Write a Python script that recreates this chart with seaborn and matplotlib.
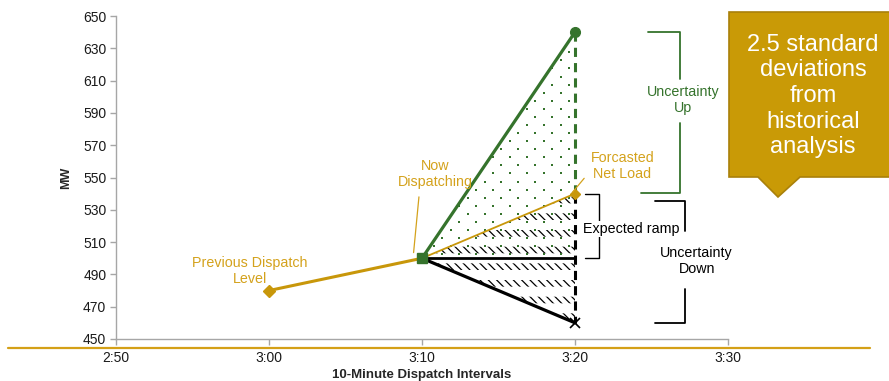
import matplotlib
matplotlib.use("Agg")
import matplotlib.pyplot as plt
from matplotlib.patches import Polygon
from matplotlib.lines import Line2D
import numpy as np
import pandas as pd
import seaborn as sns

# ---- data -------------------------------------------------------------
tick_minutes = [0, 10, 20, 30, 40]
tick_labels = ["2:50", "3:00", "3:10", "3:20", "3:30"]

prev_minutes = [10, 20]          # 3:00 -> 3:10
prev_mw = [480, 500]

step_minutes = [20, 30]          # 3:10 -> 3:20
forecast_mw = [500, 540]
up_mw = [500, 640]
down_mw = [500, 460]
hold_mw = [500, 500]

y_ticks = [450, 470, 490, 510, 530, 550, 570, 590, 610, 630, 650]

GREEN = "#35732C"
GOLD = "#C8970A"
GOLD_TXT = "#D4A21C"
BLACK = "#000000"

sns.set_style("white")
plt.rcParams["font.family"] = ["Liberation Sans", "DejaVu Sans"]

fig = plt.figure(figsize=(8.89, 3.81), dpi=100)
ax = fig.add_axes([116 / 889, 1 - 339 / 381, (728 - 116) / 889, (339 - 16) / 381])

# ---- shaded bands ----------------------------------------------------
xs = np.array(step_minutes, dtype=float)

# black diagonal strokes between the down bound and the forecast
plt.rcParams["hatch.linewidth"] = 0.9
ax.fill_between(xs, down_mw, forecast_mw, facecolor="none", edgecolor=BLACK,
                hatch="\\\\\\\\", linewidth=0, zorder=1)
# white horizontal bands break the strokes into rows
plt.rcParams["hatch.linewidth"] = 7.2
ax.fill_between(xs, down_mw, forecast_mw, facecolor="none", edgecolor="white",
                hatch="-", linewidth=0, zorder=1.5)

# green dot texture over the upward band, clipped to its outline
up_band = ax.fill_between(xs, hold_mw, up_mw, facecolor="none",
                          edgecolor="none", linewidth=0, zorder=1)
gx, gy = [], []
for i, yv in enumerate(np.arange(502.5, 640, 5.0)):
    shift = 0.0 if i % 2 == 0 else 0.555
    for xv in np.arange(20.2 + shift, 29.9, 1.11):
        gx.append(xv)
        gy.append(yv)
dots = ax.scatter(gx, gy, s=3.5, marker="s", color=GREEN, linewidths=0,
                  zorder=2)
dots.set_clip_path(up_band.get_paths()[0], ax.transData)

# ---- lines -----------------------------------------------------------
def seg(minutes, values, color, lw, **kw):
    df = pd.DataFrame({"minute": minutes, "MW": values})
    sns.lineplot(data=df, x="minute", y="MW", color=color, linewidth=lw,
                 ax=ax, legend=False, **kw)

seg(prev_minutes, prev_mw, GOLD, 2.2, zorder=4)
seg(step_minutes, up_mw, GREEN, 2.3, zorder=4)
seg(step_minutes, down_mw, BLACK, 2.3, zorder=4)
seg(step_minutes, hold_mw, BLACK, 2.0, zorder=4)
seg(step_minutes, forecast_mw, GOLD, 1.3, zorder=5)

# dashed range at 3:20
ax.plot([step_minutes[1]] * 2, [up_mw[1], forecast_mw[1]], color=GREEN,
        lw=2.2, ls=(0, (3, 2)), zorder=3)
ax.plot([step_minutes[1]] * 2, [forecast_mw[1], down_mw[1]], color=BLACK,
        lw=2.2, ls=(0, (3, 2)), zorder=3)

# markers
ax.plot(prev_minutes[0], prev_mw[0], marker="D", ms=6, color=GOLD, zorder=6)
ax.plot(step_minutes[0], up_mw[0], marker="s", ms=7, color=GREEN, zorder=6)
ax.plot(step_minutes[1], up_mw[1], marker="o", ms=7, color=GREEN, zorder=6)
ax.plot(step_minutes[1], forecast_mw[1], marker="D", ms=5, color=GOLD, zorder=6)
ax.plot(step_minutes[1], down_mw[1], marker="x", ms=7, mew=1.2, color=BLACK, zorder=6)

# ---- axes ------------------------------------------------------------
ax.set_xlim(0, 40)
ax.set_ylim(450, 650)
ax.set_xticks(tick_minutes)
ax.set_xticklabels(tick_labels)
ax.set_yticks(y_ticks)
for s in ("top", "right"):
    ax.spines[s].set_visible(False)
for s in ("left", "bottom"):
    ax.spines[s].set_color("#A6A6A6")
    ax.spines[s].set_linewidth(1.0)
ax.tick_params(axis="both", which="major", direction="out", length=4,
               width=1.0, color="#A6A6A6", labelsize=10, labelcolor="#1A1A1A",
               left=True, bottom=True)
ax.tick_params(axis="x", pad=5)
ax.tick_params(axis="y", pad=3)
ax.set_xlabel("10-Minute Dispatch Intervals", fontsize=9.5, fontweight="bold",
              labelpad=2.5)
ax.set_ylabel("MW", fontsize=9, fontweight="bold", labelpad=8)

# ---- annotations -----------------------------------------------------
fs = 10.3
ls = 1.2
ax.text(8.75, 492, "Previous Dispatch\nLevel", color=GOLD_TXT, fontsize=fs,
        ha="center", va="center", linespacing=ls, zorder=7)
ax.text(20.85, 552, "Now\nDispatching", color=GOLD_TXT, fontsize=fs,
        ha="center", va="center", linespacing=ls, zorder=7)
ax.plot([19.45, 19.8], [503.5, 538], color=GOLD_TXT, lw=0.9, zorder=7)
ax.text(33.1, 557, "Forcasted\nNet Load", color=GOLD_TXT, fontsize=fs,
        ha="center", va="center", linespacing=ls, zorder=7)
ax.plot([29.85, 30.6], [541, 549.5], color=GOLD_TXT, lw=0.9, zorder=7)

# uncertainty up bracket
ax.plot([34.8, 36.85, 36.85], [640, 640, 611], color=GREEN, lw=1.3,
        clip_on=False, zorder=7)
ax.plot([36.85, 36.85, 34.3], [584, 540.5, 540.5], color=GREEN, lw=1.3,
        clip_on=False, zorder=7)
ax.text(37.05, 598, "Uncertainty\nUp", color=GREEN, fontsize=fs,
        ha="center", va="center", linespacing=ls, clip_on=False, zorder=8)

# expected ramp bracket
ax.plot([30.65, 31.6, 31.6, 30.65], [540, 540, 500, 500], color=BLACK,
        lw=1.0, zorder=7)
ax.text(30.55, 518, "Expected ramp", color=BLACK, fontsize=fs, ha="left",
        va="center", zorder=8,
        bbox=dict(facecolor="white", edgecolor="none", pad=0.5))

# uncertainty down bracket
ax.plot([35.2, 37.2, 37.2], [535.5, 535.5, 517], color=BLACK, lw=1.3,
        clip_on=False, zorder=7)
ax.plot([37.2, 37.2, 35.2], [481, 460, 460], color=BLACK, lw=1.3,
        clip_on=False, zorder=7)
ax.text(37.95, 498.5, "Uncertainty\nDown", color=BLACK, fontsize=fs,
        ha="center", va="center", linespacing=ls, clip_on=False, zorder=8)

# ---- figure-level decorations ----------------------------------------
W, H = 889.0, 381.0
def fx(px):
    return px / W
def fy(py):
    return 1 - py / H

# gold rule under the plot
fig.add_artist(Line2D([fx(8), fx(870)], [fy(348), fy(348)], color="#D4A017",
                      lw=1.6, transform=fig.transFigure))

# callout box
box_fill = "#C99A06"
box_edge = "#A9800A"
fig.add_artist(Polygon([(fx(729), fy(12)), (fx(895), fy(12)), (fx(895), fy(177)),
                        (fx(800), fy(177)), (fx(778), fy(197)), (fx(758), fy(177)),
                        (fx(729), fy(177))],
                       closed=True, facecolor=box_fill, edgecolor=box_edge,
                       lw=1.2, transform=fig.transFigure, zorder=10))
fig.text(fx(813), fy(96), "2.5 standard\ndeviations\nfrom\nhistorical\nanalysis",
         color="white", fontsize=17, ha="center", va="center",
         linespacing=1.22, zorder=11)

fig.savefig("out.png", dpi=100)
